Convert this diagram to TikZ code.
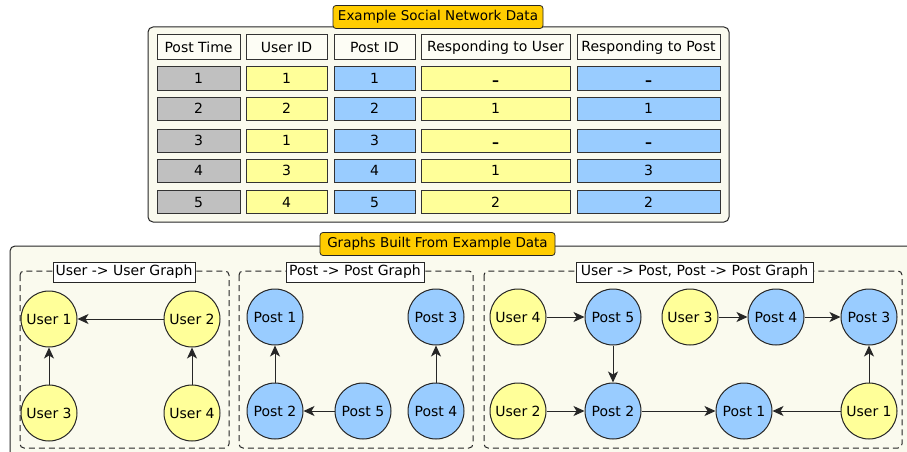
\documentclass[tikz,border=0pt]{standalone}
\usepackage{fontspec}
\setmainfont{DejaVu Sans}
\usetikzlibrary{arrows.meta}

\definecolor{cream}{RGB}{250,250,238}
\definecolor{hdrfill}{RGB}{253,253,245}
\definecolor{usery}{RGB}{255,255,153}
\definecolor{postb}{RGB}{153,204,255}
\definecolor{timeg}{RGB}{192,192,192}
\definecolor{titleo}{RGB}{255,204,0}

\tikzset{
  panel/.style={draw=black!85, line width=1pt, fill=cream, rounded corners=5pt},
  paneltitle/.style={draw=black!85, line width=0.8pt, fill=titleo, rounded corners=3pt,
    inner sep=0pt, minimum height=23pt, font=\fontsize{13.5}{15}\selectfont},
  cell/.style={draw=black!80, line width=1pt, inner sep=0pt, minimum height=23pt,
    font=\fontsize{14}{16}\selectfont},
  hdr/.style={cell, fill=hdrfill, minimum height=25pt},
  tcell/.style={cell, fill=timeg},
  ucell/.style={cell, fill=usery},
  pcell/.style={cell, fill=postb},
  subbox/.style={draw=black!85, line width=1pt, dash pattern=on 6pt off 4pt, rounded corners=4pt},
  sublabel/.style={draw=black!85, line width=0.8pt, fill=white, inner sep=0pt,
    minimum height=20pt, font=\fontsize{14}{16}\selectfont},
  usr/.style={circle, draw=black!85, line width=1pt, fill=usery, minimum size=56pt,
    inner sep=0pt, font=\fontsize{14}{16}\selectfont},
  pst/.style={usr, fill=postb},
  link/.style={-{Stealth[length=11pt,width=10pt,inset=3pt]}, line width=1pt, draw=black!85}
}
\newcommand{\nodash}{\smash{\raisebox{-1.5pt}{\bfseries –}}\vphantom{1}}

\begin{document}
\begin{tikzpicture}[x=1pt,y=-1pt]
\useasboundingbox (0,0) rectangle (907,452);
\clip (0,0) rectangle (907,452);

% table panel
\draw[panel] (148,27) rectangle (729,222);
\node[paneltitle, minimum width=210pt] (datatitle) at (438,17) {Example Social Network Data};

\node[hdr, minimum width=83pt]  (h1) at (198.5,47.5) {Post Time};
\node[hdr, minimum width=81pt]  (h2) at (286.5,47.5) {User ID};
\node[hdr, minimum width=81pt]  (h3) at (374.5,47.5) {Post ID};
\node[hdr, minimum width=149pt] (h4) at (495.5,47.5) {Responding to User};
\node[hdr, minimum width=143pt] (h5) at (648.5,47.5) {Responding to Post};

\foreach \y/\t/\u/\p/\ru/\rp in {78.5/1/1/1/\nodash/\nodash, 108.5/2/2/2/1/1, 140.5/3/1/3/\nodash/\nodash,
                                 170.5/4/3/4/1/3, 202/5/4/5/2/2} {
  \node[tcell, minimum width=83pt]  (t\t) at (198.5,\y) {\t};
  \node[ucell, minimum width=81pt]  (u\t) at (286.5,\y) {\u};
  \node[pcell, minimum width=81pt]  (p\t) at (374.5,\y) {\p};
  \node[ucell, minimum width=149pt] (ru\t) at (495.5,\y) {\ru};
  \node[pcell, minimum width=143pt] (rp\t) at (648.5,\y) {\rp};
}

% graphs panel
\draw[panel] (10,246) rectangle (930,480);
\node[paneltitle, minimum width=235pt] (graphtitle) at (437.5,244) {Graphs Built From Example Data};

\draw[subbox] (20,271) rectangle (229,448);
\draw[subbox] (239,271) rectangle (473,448);
\draw[subbox] (484,271) rectangle (902,448);
\node[sublabel, minimum width=142pt] (uulabel) at (124,272) {User -> User Graph};
\node[sublabel, minimum width=138pt] (pplabel) at (355,272) {Post -> Post Graph};
\node[sublabel, minimum width=237pt] (uplabel) at (694.5,272) {User -> Post, Post -> Post Graph};

% user -> user
\node[usr] (uuA) at (49,319) {User 1};
\node[usr] (uuB) at (192,319) {User 2};
\node[usr] (uuC) at (49,413) {User 3};
\node[usr] (uuD) at (192,413) {User 4};
\draw[link] (uuB) -- (uuA);
\draw[link] (uuC) -- (uuA);
\draw[link] (uuD) -- (uuB);

% post -> post
\node[pst] (ppA) at (275,317) {Post 1};
\node[pst] (ppC) at (436,317) {Post 3};
\node[pst] (ppB) at (275,411) {Post 2};
\node[pst] (ppE) at (363,411) {Post 5};
\node[pst] (ppD) at (436,411) {Post 4};
\draw[link] (ppB) -- (ppA);
\draw[link] (ppE) -- (ppB);
\draw[link] (ppD) -- (ppC);

% user -> post, post -> post
\node[usr] (upU4) at (518,317) {User 4};
\node[pst] (upP5) at (613,317) {Post 5};
\node[usr] (upU3) at (690,317) {User 3};
\node[pst] (upP4) at (776,317) {Post 4};
\node[pst] (upP3) at (869,317) {Post 3};
\node[usr] (upU2) at (518,411) {User 2};
\node[pst] (upP2) at (613,411) {Post 2};
\node[pst] (upP1) at (744,411) {Post 1};
\node[usr] (upU1) at (869,411) {User 1};
\draw[link] (upU4) -- (upP5);
\draw[link] (upU3) -- (upP4);
\draw[link] (upP4) -- (upP3);
\draw[link] (upP5) -- (upP2);
\draw[link] (upU2) -- (upP2);
\draw[link] (upP2) -- (upP1);
\draw[link] (upU1) -- (upP1);
\draw[link] (upU1) -- (upP3);
\end{tikzpicture}
\end{document}
